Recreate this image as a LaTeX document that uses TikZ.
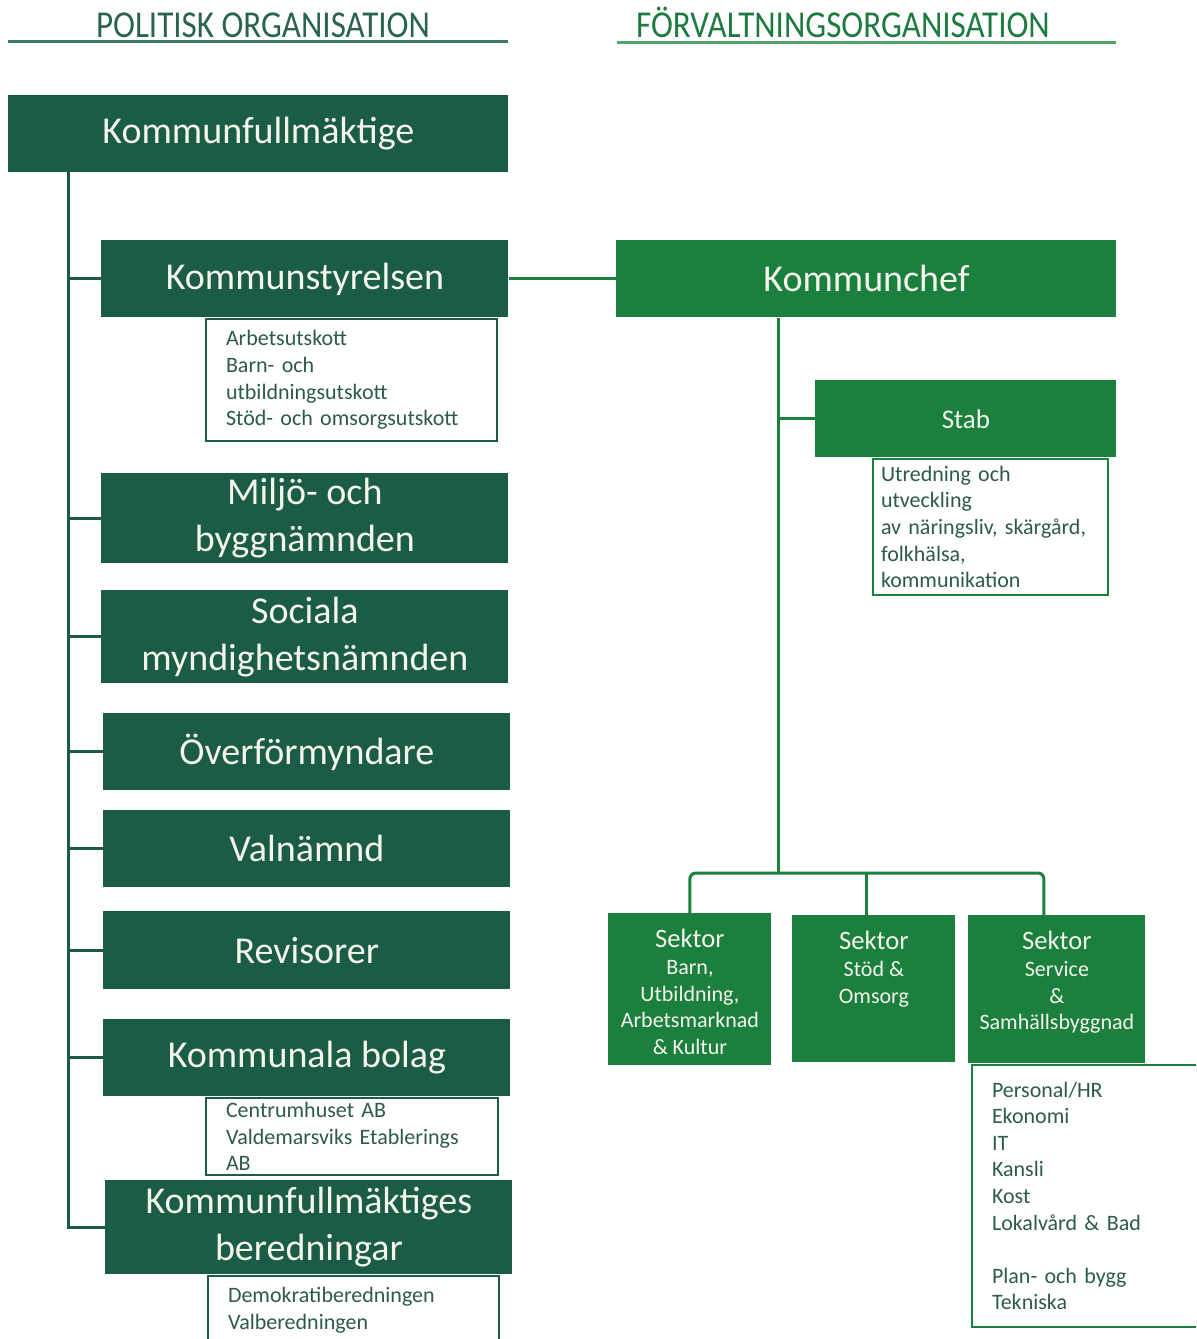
\documentclass[tikz,border=0pt]{standalone}
\usepackage{fontspec}
\setmainfont{Carlito}
\definecolor{polgreen}{HTML}{1A5C45}
\definecolor{fvgreen}{HTML}{1B7F3D}
\definecolor{boxtext}{HTML}{F4F4EC}
\definecolor{listtext}{HTML}{2E5A4C}
\definecolor{polhead}{HTML}{2A6350}
\definecolor{fvhead}{HTML}{1E7A40}
\definecolor{polrule}{HTML}{3E7A63}
\definecolor{fvrule}{HTML}{4FA56B}
\newcommand{\sektortext}[2]{\parbox[c][#1][t]{80pt}{\centering\fontsize{11}{13.3}\selectfont{\fontsize{13.3}{13.3}\selectfont Sektor}\\#2}}
\tikzset{
  polbox/.style={fill=polgreen, text=boxtext, inner sep=0pt, anchor=north west, align=center, font=\fontsize{19}{23.5}\selectfont},
  fvbox/.style={polbox, fill=fvgreen},
  pollist/.style={draw=polgreen, line width=1pt, fill=white, text=listtext, anchor=north west, align=left, inner xsep=10pt, inner ysep=0pt, font=\fontsize{11}{13.3}\selectfont},
  fvlist/.style={pollist, draw=fvgreen},
  polline/.style={draw=polgreen, line width=1.5pt},
  fvline/.style={draw=fvgreen, line width=1.5pt},
  header/.style={font=\fontsize{19}{19}\selectfont, anchor=base, xscale=0.87},
}
\begin{document}
\begin{tikzpicture}[x=0.5pt, y=-0.5pt]
\useasboundingbox (0,0) rectangle (1196,1339);
\clip (0,0) rectangle (1196,1339);
\node[header, text=polhead] (polhd) at (263,37) {POLITISK ORGANISATION};
\node[header, text=fvhead] (fvhd) at (843,37) {FÖRVALTNINGSORGANISATION};
\draw[polrule, line width=1.5pt] (8,41) -- (508,41);
\draw[fvrule, line width=1.5pt] (617,42) -- (1116,42);

\node[polbox, minimum width=250pt, minimum height=38.5pt] (kf) at (8,95) {Kommunfullmäktige};
\node[polbox, minimum width=203.5pt, minimum height=38.5pt] (ks) at (101,240) {Kommunstyrelsen};
\node[pollist, minimum height=61pt, text width=125.5pt] (ksl) at (205,318) {Arbetsutskott\\Barn- och\\utbildningsutskott\\Stöd- och omsorgsutskott};
\node[polbox, minimum width=203.5pt, minimum height=45pt] (miljo) at (101,473) {Miljö- och\\byggnämnden};
\node[polbox, minimum width=203.5pt, minimum height=46.5pt] (sociala) at (101,590) {Sociala\\myndighetsnämnden};
\node[polbox, minimum width=203.5pt, minimum height=38.5pt] (overf) at (103,713) {Överförmyndare};
\node[polbox, minimum width=203.5pt, minimum height=38.5pt] (valn) at (103,810) {Valnämnd};
\node[polbox, minimum width=203.5pt, minimum height=39pt] (revis) at (103,911) {Revisorer};
\node[polbox, minimum width=203.5pt, minimum height=38.5pt] (bolag) at (103,1019) {Kommunala bolag};
\node[pollist, minimum height=38.5pt, text width=126pt] (bolagl) at (205,1097) {Centrumhuset AB\\Valdemarsviks Etablerings\\AB};
\node[polbox, minimum width=203.5pt, minimum height=47pt] (bered) at (105,1180) {Kommunfullmäktiges\\beredningar};
\node[pollist, minimum height=34pt, text width=125.5pt] (beredl) at (207,1275) {Demokratiberedningen\\Valberedningen};

\coordinate (trunk) at (68,172);
\draw[polline] (trunk) |- (bered.west);
\foreach \n in {ks,miljo,sociala,overf,valn,revis,bolag}
  \draw[polline] (trunk |- \n.west) -- (\n.west);

\node[fvbox, minimum width=250pt, minimum height=38.5pt] (kc) at (616,240) {Kommunchef};
\draw[fvline] (ks.east) -- (kc.west);
\node[fvbox, minimum width=150.5pt, minimum height=38.5pt, font=\fontsize{13.5}{13.5}\selectfont] (stab) at (815,380) {Stab};
\node[fvlist, minimum height=68pt, text width=109.5pt, inner xsep=4pt] (stabl) at (872,458) {Utredning och\\utveckling\\av näringsliv, skärgård,\\folkhälsa,\\kommunikation};
\node[fvlist, minimum height=131pt, text width=102pt] (s3l) at (971,1064) {Personal/HR\\Ekonomi\\IT\\Kansli\\Kost\\Lokalvård \& Bad\\[13.3pt]Plan- och bygg\\Tekniska};
\node[fvbox, minimum width=81.5pt, minimum height=76pt] (s1) at (608,913) {\sektortext{60pt}{Barn,\\Utbildning,\\Arbetsmarknad\\\& Kultur}};
\node[fvbox, minimum width=81.5pt, minimum height=73.5pt] (s2) at (792,915) {\sektortext{57.5pt}{Stöd \&\\Omsorg}};
\node[fvbox, minimum width=88.5pt, minimum height=74pt] (s3) at (968,915) {\sektortext{58pt}{Service\\\&\\Samhällsbyggnad}};

\coordinate (kcdown) at ([xshift=81pt]kc.south west);
\coordinate (fork) at (778,873);
\draw[fvline] (kcdown) -- (fork);
\draw[fvline] (kcdown |- stab.west) -- (stab.west);
\draw[fvline, rounded corners=3pt] (s1.north) |- (fork) -| ([xshift=-6.5pt]s3.north);
\draw[fvline] ([xshift=-3.5pt]fork -| s2.north) -- ([xshift=-3.5pt]s2.north);
\end{tikzpicture}
\end{document}
